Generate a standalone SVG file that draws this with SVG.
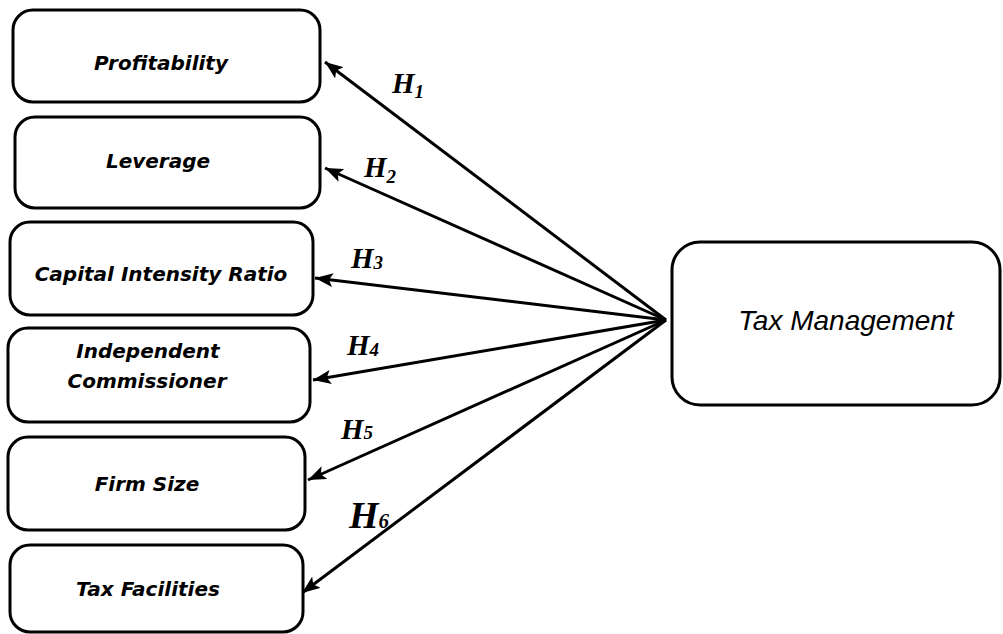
<svg xmlns="http://www.w3.org/2000/svg" width="1003" height="634" viewBox="0 0 1003 634">
<style>
.box{fill:#fff;stroke:#000;stroke-width:3}
.lbl{font-family:"DejaVu Sans",Verdana,sans-serif;font-weight:bold;font-style:oblique;font-size:20px;fill:#000;text-anchor:middle}
.tm{font-family:"Liberation Sans",Arial,sans-serif;font-style:italic;font-size:28px;fill:#000;text-anchor:middle}
.h{font-family:"Liberation Serif","Times New Roman",serif;font-weight:bold;font-style:italic;font-size:29px;fill:#000}
.sub{font-size:19px}
.conn{stroke:#000;stroke-width:3;fill:none;marker-end:url(#ah)}
</style>
<defs>
<marker id="ah" markerUnits="userSpaceOnUse" markerWidth="20" markerHeight="14" refX="18" refY="7" orient="auto">
<path d="M0,0 L18,7 L0,14 L4,7 Z" fill="#000"/>
</marker>
</defs>
<rect width="1003" height="634" fill="#fff"/>
<g id="connectors">
<line class="conn" x1="666" y1="320" x2="325" y2="62"/>
<line class="conn" x1="666" y1="320" x2="325" y2="168"/>
<line class="conn" x1="666" y1="320" x2="315" y2="278"/>
<line class="conn" x1="666" y1="320" x2="313" y2="380"/>
<line class="conn" x1="666" y1="320" x2="308" y2="480"/>
<line class="conn" x1="666" y1="320" x2="302" y2="593"/>
</g>
<g id="labels">
<text class="h" x="392" y="93">H<tspan class="sub" dy="5">1</tspan></text>
<text class="h" x="364" y="177">H<tspan class="sub" dy="6">2</tspan></text>
<text class="h" x="351" y="268">H<tspan class="sub" dy="1">3</tspan></text>
<text class="h" x="347" y="355">H<tspan class="sub" dy="1">4</tspan></text>
<text class="h" x="341" y="439">H<tspan class="sub" dy="0">5</tspan></text>
<text class="h" x="349" y="528" style="font-size:38px">H<tspan style="font-size:21px" dy="0">6</tspan></text>
</g>
<g id="profitability">
<rect class="box" x="13" y="10" width="307" height="92" rx="20"/>
<text class="lbl" x="161" y="70">Profitability</text>
</g>
<g id="leverage">
<rect class="box" x="15" y="117" width="305" height="91" rx="20"/>
<text class="lbl" x="158" y="168">Leverage</text>
</g>
<g id="capital-intensity">
<rect class="box" x="10" y="222" width="303" height="93" rx="20"/>
<text class="lbl" x="161" y="281">Capital Intensity Ratio</text>
</g>
<g id="independent-commissioner">
<rect class="box" x="8" y="328" width="302" height="94" rx="20"/>
<text class="lbl" x="148" y="358">Independent</text>
<text class="lbl" x="147" y="388">Commissioner</text>
</g>
<g id="firm-size">
<rect class="box" x="8" y="437" width="297" height="93" rx="20"/>
<text class="lbl" x="147" y="491">Firm Size</text>
</g>
<g id="tax-facilities">
<rect class="box" x="10" y="545" width="293" height="87" rx="20"/>
<text class="lbl" x="148" y="596">Tax Facilities</text>
</g>
<g id="tax-management">
<rect class="box" x="672" y="242" width="328" height="163" rx="28"/>
<text class="tm" x="846" y="330">Tax Management</text>
</g>
</svg>
